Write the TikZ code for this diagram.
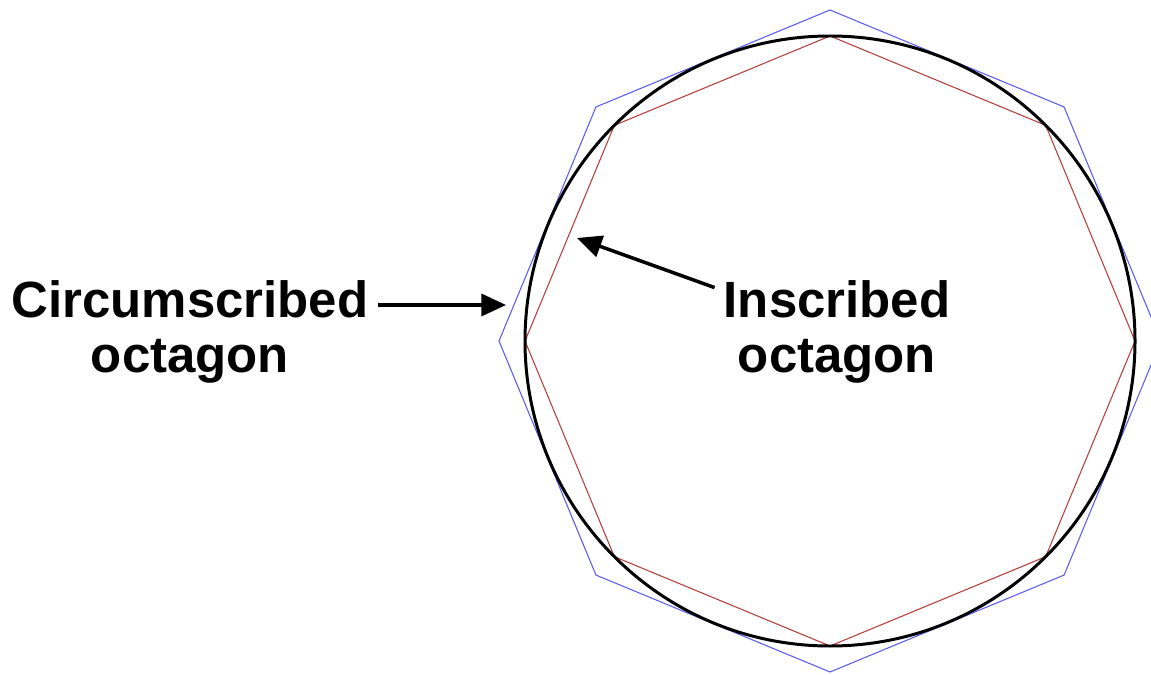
\documentclass[tikz,border=0pt]{standalone}
\usepackage{fontspec}
\setmainfont{Liberation Sans}
\usetikzlibrary{arrows.meta}
\definecolor{outerblue}{RGB}{90,90,240}
\definecolor{innerred}{RGB}{180,60,60}
\tikzset{
  lbl/.style={font=\fontsize{29}{31}\selectfont\bfseries,align=center,inner xsep=5pt,inner ysep=0pt},
  ptr/.style={-{Triangle[length=14pt,width=12.5pt]},line width=2pt},
  outer/.style={draw=outerblue,line width=0.6pt},
  inner/.style={draw=innerred,line width=0.6pt}
}
\begin{document}
\begin{tikzpicture}[x=0.02cm,y=-0.02cm]
    \useasboundingbox(0,0)rectangle(1151,675);
    \coordinate(o)at(830,341);
    \draw[outer](o)+(0:331)--+(45:331)--+(90:331)--+(135:331)--+(180:331)--+(225:331)--+(270:331)--+(315:331)--cycle;
    \draw[inner](o)+(0:305)--+(45:305)--+(90:305)--+(135:305)--+(180:305)--+(225:305)--+(270:305)--+(315:305)--cycle;
    \draw[line width=1.7pt](o)circle(305);

    \node[lbl](circ)at(190,332){Circumscribed\\octagon};
    \node[lbl](ins)at(837,332){Inscribed\\octagon};
    \coordinate(ctip)at(506,305);
    \coordinate(itip)at(577,238);
    \draw[ptr](circ.east|-ctip)--(ctip);
    \draw[ptr]([yshift=-4pt]ins.north west)--(itip);
\end{tikzpicture}
\end{document}
